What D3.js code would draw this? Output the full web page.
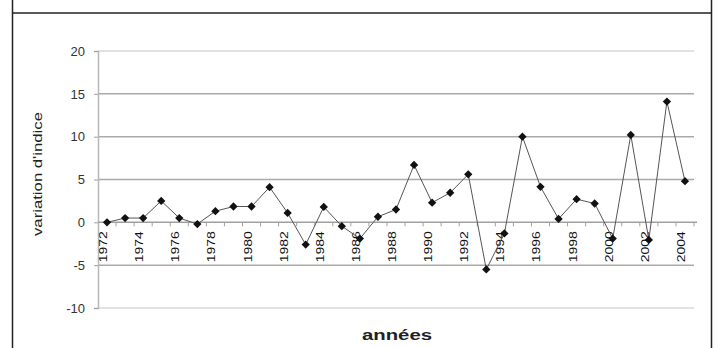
<!DOCTYPE html>
<html><head><meta charset="utf-8">
<script src="https://cdn.jsdelivr.net/npm/d3@7"></script>
<style>html,body{margin:0;padding:0;background:#fff;}svg{display:block;font-family:"Liberation Sans",Arial,sans-serif;}</style>
</head><body>
<svg id="c" width="718" height="348"></svg>
<script>
const years = d3.range(1972, 2005);
const values = [0.0, 0.5, 0.5, 2.5, 0.5, -0.2, 1.3, 1.85, 1.85, 4.1,
                1.1, -2.6, 1.8, -0.45, -1.9, 0.65, 1.5, 6.7, 2.3, 3.45,
                5.6, -5.5, -1.3, 10.0, 4.15, 0.4, 2.7, 2.2, -1.9, 10.2,
                -2.05, 14.1, 4.8];
const yTicks = [-10, -5, 0, 5, 10, 15, 20];
const xLabels = years.filter(y => (y - 1972) % 2 === 0);
const yTitle = "variation d'indice";
const xTitle = "années";

const svg = d3.select("#c");
// frame
svg.append("line").attr("x1",12.5).attr("x2",12.5).attr("y1",0).attr("y2",348).attr("stroke","#222").attr("stroke-width",1.5);
svg.append("line").attr("x1",711.5).attr("x2",711.5).attr("y1",0).attr("y2",348).attr("stroke","#222").attr("stroke-width",1.5);
svg.append("line").attr("x1",12).attr("x2",712).attr("y1",13).attr("y2",13).attr("stroke","#222").attr("stroke-width",1.5);

const x = d3.scaleBand().domain(years).range([98, 694]).padding(0);
const y = d3.scaleLinear().domain([-10, 20]).range([308, 51]);
const cx = d => x(d) + x.bandwidth()/2;

// gridlines
const g = svg.append("g");
g.selectAll("line.grid").data(yTicks.filter(v => v !== 0)).join("line")
  .attr("x1", 98).attr("x2", 694)
  .attr("y1", d => y(d)).attr("y2", d => y(d))
  .attr("stroke", d => (d === 20 || d === -10) ? "#d8d8d8" : "#aaaaaa")
  .attr("stroke-width", 1.5);

// y axis
const yAxis = d3.axisLeft(y).tickValues(yTicks).tickSize(4).tickPadding(9).tickFormat(d => String(d));
const ya = svg.append("g").attr("transform","translate(98,0)").call(yAxis);
ya.select(".domain").attr("stroke","#b8b8b8").attr("stroke-width",1.5);
ya.selectAll(".tick line").attr("stroke","#a0a0a0");
ya.selectAll("text").attr("font-size",13).attr("fill","#333").attr("font-family","'Liberation Sans',Arial,sans-serif");

// zero axis with ticks at category boundaries
svg.append("line").attr("x1",98).attr("x2",697).attr("y1",y(0)).attr("y2",y(0)).attr("stroke","#a0a0a0").attr("stroke-width",1.5);
svg.append("g").selectAll("line").data(years).join("line")
  .attr("x1", d => x(d) + x.bandwidth()).attr("x2", d => x(d) + x.bandwidth())
  .attr("y1", y(0)).attr("y2", y(0) + 4).attr("stroke","#a0a0a0");

// x labels (rotated)
svg.append("g").selectAll("text").data(xLabels).join("text")
  .attr("transform", d => `translate(${cx(d) - 4},${y(0) + 9}) rotate(-90)`)
  .attr("text-anchor","end").attr("dominant-baseline","central")
  .attr("font-size",11).attr("fill","#111")
  .attr("textLength",31).attr("lengthAdjust","spacingAndGlyphs")
  .text(d => d);

// line
const pts = years.map((yr,i) => [yr, values[i]]);
svg.append("path").datum(pts)
  .attr("d", d3.line().x(d => cx(d[0])).y(d => y(d[1])))
  .attr("fill","none").attr("stroke","#555").attr("stroke-width",1);

// markers
svg.append("g").selectAll("path").data(pts).join("path")
  .attr("transform", d => `translate(${cx(d[0])},${y(d[1])})`)
  .attr("d", d3.symbol(d3.symbolDiamond2, 44))
  .attr("fill","#111");

// titles
svg.append("text").attr("transform","translate(37,174) rotate(-90)")
  .attr("text-anchor","middle").attr("dominant-baseline","central")
  .attr("font-size",13).attr("fill","#222")
  .attr("textLength",124).attr("lengthAdjust","spacingAndGlyphs")
  .text(yTitle);
svg.append("text").attr("x",397).attr("y",340)
  .attr("text-anchor","middle").attr("font-size",14).attr("font-weight","bold").attr("fill","#222")
  .attr("textLength",70).attr("lengthAdjust","spacingAndGlyphs")
  .text(xTitle);
</script>
</body></html>
